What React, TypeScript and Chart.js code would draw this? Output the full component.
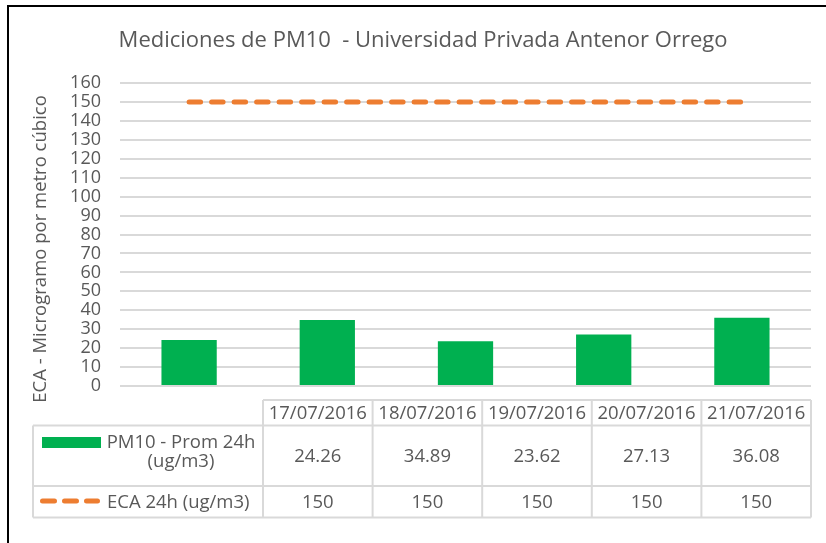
import React, { useEffect, useRef } from "react";
import { Chart, registerables } from "chart.js";

Chart.register(...registerables);

// ---- data ----
const categories = ["17/07/2016", "18/07/2016", "19/07/2016", "20/07/2016", "21/07/2016"];
const pm10Values = [24.26, 34.89, 23.62, 27.13, 36.08];
const ecaValues = [150, 150, 150, 150, 150];
const pm10LabelLines = ["PM10 - Prom 24h", "(ug/m3)"];
const ecaLabel = "ECA 24h (ug/m3)";
const chartTitle = "Mediciones de PM10  - Universidad Privada Antenor Orrego";
const yAxisTitle = "ECA - Microgramo por metro cúbico";
const yMin = 0;
const yMax = 160;
const yStep = 10;

// ---- style ----
const FONT = "'Open Sans', 'Noto Sans', sans-serif";
const TEXT = "#595959";
const GRID = "#d9d9d9";
const GREEN = "#00B050";
const ORANGE = "#ED7D31";
const W = 826;
const H = 543;

// table geometry
const tbl = {
  labelLeft: 33,
  left: 263,
  right: 811,
  headTop: 400,
  row1Top: 425.5,
  row2Top: 486,
  bottom: 517.5,
};

const fmtPm = (v: number) => v.toFixed(2);
const fmtEca = (v: number) => String(v);

const decorPlugin = {
  id: "decor",
  beforeDraw(chart: any) {
    const ctx = chart.ctx;
    ctx.save();
    ctx.fillStyle = "#ffffff";
    ctx.fillRect(0, 0, W, H);
    ctx.restore();
  },
  afterDraw(chart: any) {
    const ctx: CanvasRenderingContext2D = chart.ctx;
    ctx.save();
    // frame (top + left)
    ctx.fillStyle = "#000000";
    ctx.fillRect(7, 5, W - 7, 2);
    ctx.fillRect(7, 5, 2, H - 5);

    // title
    ctx.fillStyle = TEXT;
    ctx.font = `22px ${FONT}`;
    ctx.textAlign = "center";
    ctx.textBaseline = "alphabetic";
    ctx.fillText(chartTitle, 423, 47);

    // y axis title
    ctx.save();
    ctx.translate(46, 249);
    ctx.rotate(-Math.PI / 2);
    ctx.font = `18.5px ${FONT}`;
    ctx.textAlign = "center";
    ctx.fillText(yAxisTitle, 0, 0);
    ctx.restore();

    // data table
    const n = categories.length;
    const colW = (tbl.right - tbl.left) / n;
    ctx.strokeStyle = GRID;
    ctx.lineWidth = 2;
    ctx.beginPath();
    ctx.moveTo(tbl.left, tbl.headTop);
    ctx.lineTo(tbl.right, tbl.headTop);
    ctx.moveTo(tbl.labelLeft, tbl.row1Top);
    ctx.lineTo(tbl.right, tbl.row1Top);
    ctx.moveTo(tbl.labelLeft, tbl.row2Top);
    ctx.lineTo(tbl.right, tbl.row2Top);
    ctx.moveTo(tbl.labelLeft, tbl.bottom);
    ctx.lineTo(tbl.right, tbl.bottom);
    ctx.moveTo(tbl.labelLeft, tbl.row1Top);
    ctx.lineTo(tbl.labelLeft, tbl.bottom);
    for (let i = 0; i <= n; i++) {
      const x = tbl.left + colW * i;
      ctx.moveTo(x, tbl.headTop);
      ctx.lineTo(x, tbl.bottom);
    }
    ctx.stroke();

    ctx.fillStyle = TEXT;
    ctx.font = `18.5px ${FONT}`;
    ctx.textAlign = "center";
    ctx.textBaseline = "alphabetic";
    for (let i = 0; i < n; i++) {
      const cx = tbl.left + colW * (i + 0.5);
      ctx.fillText(categories[i], cx, 419);
      ctx.fillText(fmtPm(pm10Values[i]), cx, 462);
      ctx.fillText(fmtEca(ecaValues[i]), cx, 508);
    }

    // legend keys
    ctx.fillStyle = GREEN;
    ctx.fillRect(42, 437, 59, 11);
    ctx.strokeStyle = ORANGE;
    ctx.lineWidth = 5;
    ctx.lineCap = "round";
    ctx.beginPath();
    [[42.5, 54.5], [64.5, 76.5], [86.5, 97.5]].forEach(([a, b]) => {
      ctx.moveTo(a, 501);
      ctx.lineTo(b, 501);
    });
    ctx.stroke();

    ctx.fillStyle = TEXT;
    ctx.textAlign = "center";
    ctx.fillText(pm10LabelLines[0], 181, 448);
    ctx.fillText(pm10LabelLines[1], 181, 467);
    ctx.textAlign = "left";
    ctx.fillText(ecaLabel, 107, 508);
    ctx.restore();
  },
};

export default function App() {
  const ref = useRef<HTMLCanvasElement | null>(null);
  useEffect(() => {
    if (!ref.current) return;
    const chart = new Chart(ref.current, {
      type: "bar",
      data: {
        labels: categories,
        datasets: [
          {
            type: "line",
            label: ecaLabel,
            data: ecaValues,
            borderColor: ORANGE,
            borderWidth: 5,
            borderDash: [11.5, 11],
            borderCapStyle: "round",
            pointRadius: 0,
            fill: false,
            order: 0,
          } as any,
          {
            type: "bar",
            label: pm10LabelLines.join(" "),
            data: pm10Values,
            backgroundColor: GREEN,
            borderWidth: 0,
            categoryPercentage: 1,
            barPercentage: 0.4,
            order: 1,
          },
        ],
      },
      options: {
        responsive: false,
        animation: false,
        layout: { padding: { left: 0, right: 15, top: 83, bottom: 157 } },
        plugins: {
          legend: { display: false },
          title: { display: false },
          tooltip: { enabled: false },
        },
        scales: {
          x: { display: false, offset: true },
          y: {
            min: yMin,
            max: yMax,
            border: { display: false },
            grid: { color: GRID, lineWidth: 2, drawTicks: false },
            ticks: {
              stepSize: yStep,
              color: TEXT,
              font: { family: FONT, size: 18 },
              padding: 19,
              autoSkip: false,
            },
            afterFit(scale: any) {
              scale.width = 120;
            },
          },
        },
      },
      plugins: [decorPlugin],
    });
    return () => chart.destroy();
  }, []);
  return (
    <canvas
      ref={ref}
      width={W}
      height={H}
      style={{ position: "absolute", left: 0, top: 0, display: "block" }}
    />
  );
}
